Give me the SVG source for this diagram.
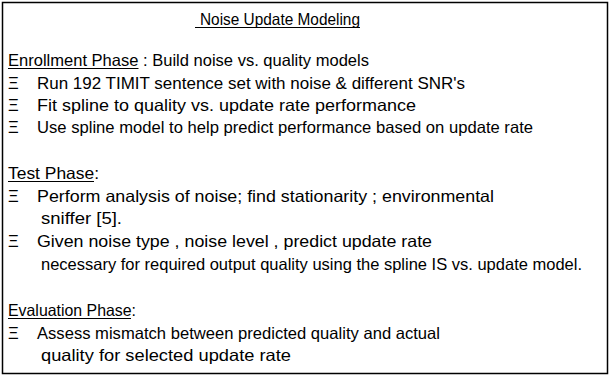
<svg xmlns="http://www.w3.org/2000/svg" width="610" height="376" viewBox="0 0 610 376">
<style>
text{font-family:"Liberation Sans Narrow","Liberation Sans",Arial,sans-serif;font-size:16.5px;fill:#000}
.u{stroke:#000;stroke-width:1}
</style>
<rect x="0" y="0" width="610" height="376" fill="#fff"/>
<rect id="frame" x="2.5" y="2.5" width="605" height="371" fill="none" stroke="#000" stroke-width="1.5"/>
<g id="title">
<text x="200" y="25" textLength="160" lengthAdjust="spacingAndGlyphs">Noise Update Modeling</text>
<line class="u" x1="195" y1="27.5" x2="360" y2="27.5"/>
</g>
<g id="enrollment">
<text x="8" y="66" textLength="361" lengthAdjust="spacingAndGlyphs">Enrollment Phase : Build noise vs. quality models</text>
<line class="u" x1="8" y1="68.5" x2="138.5" y2="68.5"/>
<text x="8" y="89">Ξ</text><text x="37" y="89" textLength="428" lengthAdjust="spacingAndGlyphs">Run 192 TIMIT sentence set with noise  &amp; different SNR's</text>
<text x="8" y="111">Ξ</text><text x="37" y="111" textLength="379" lengthAdjust="spacingAndGlyphs">Fit spline to quality vs. update rate performance</text>
<text x="8" y="133">Ξ</text><text x="37" y="133" textLength="496" lengthAdjust="spacingAndGlyphs">Use spline model to help predict performance based on update rate</text>
</g>
<g id="test">
<text x="8" y="179" textLength="91" lengthAdjust="spacingAndGlyphs">Test Phase:</text>
<line class="u" x1="8" y1="181.5" x2="94" y2="181.5"/>
<text x="8" y="202">Ξ</text><text x="37" y="202" textLength="457" lengthAdjust="spacingAndGlyphs">Perform analysis of noise; find stationarity ; environmental</text>
<text x="41" y="224" textLength="81" lengthAdjust="spacingAndGlyphs">sniffer [5].</text>
<text x="8" y="247">Ξ</text><text x="37" y="247" textLength="395" lengthAdjust="spacingAndGlyphs">Given noise type , noise level , predict update rate</text>
<text x="41" y="270" textLength="541" lengthAdjust="spacingAndGlyphs">necessary for required output quality using the spline IS vs. update model.</text>
</g>
<g id="evaluation">
<text x="8" y="316" textLength="128" lengthAdjust="spacingAndGlyphs">Evaluation Phase:</text>
<line class="u" x1="8" y1="318.5" x2="131" y2="318.5"/>
<text x="8" y="339">Ξ</text><text x="37" y="339" textLength="403" lengthAdjust="spacingAndGlyphs">Assess mismatch between predicted quality and actual</text>
<text x="41" y="361" textLength="250" lengthAdjust="spacingAndGlyphs">quality for selected update rate</text>
</g>
</svg>
